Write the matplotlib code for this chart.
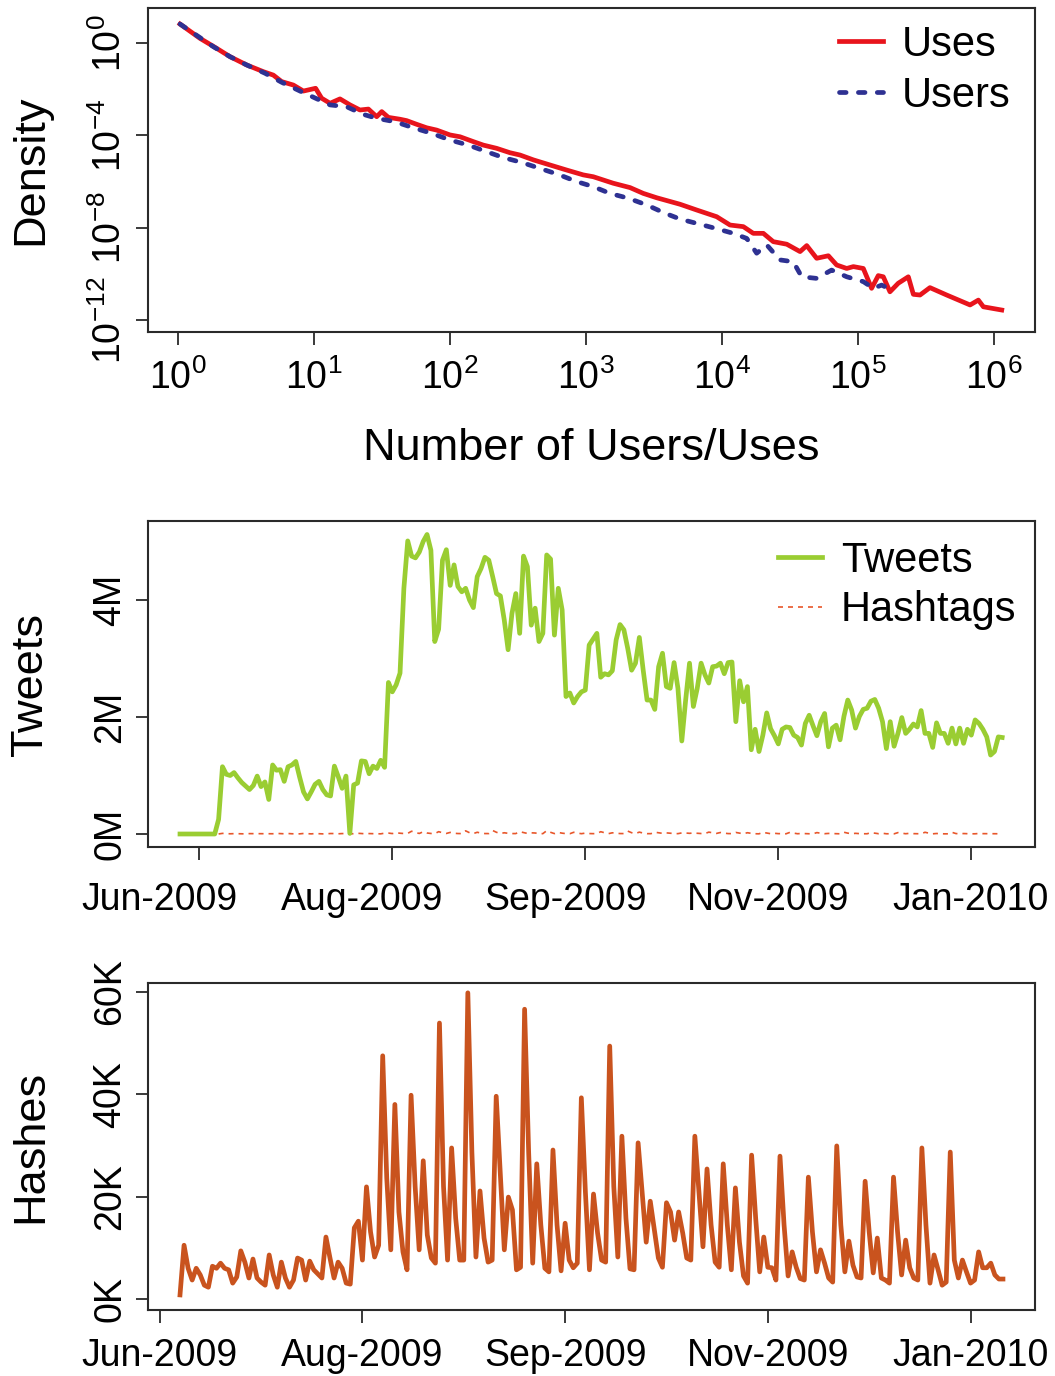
import numpy as np
import matplotlib
matplotlib.use('Agg')
import matplotlib.pyplot as plt
from matplotlib.ticker import FixedLocator, NullLocator, FixedFormatter

plt.rcParams['font.family'] = ['Liberation Sans', 'DejaVu Sans']
plt.rcParams['mathtext.fontset'] = 'custom'
plt.rcParams['mathtext.rm'] = 'Liberation Sans'
plt.rcParams['mathtext.it'] = 'Liberation Sans:italic'
plt.rcParams['mathtext.bf'] = 'Liberation Sans:bold'

# ---------------- Panel 1: density (log10 of x and of density) ----------------
uses_log_x = [0.015, 0.162, 0.284, 0.382, 0.505, 0.627, 0.701, 0.762, 0.848, 0.922,
              1.012, 1.056, 1.118, 1.191, 1.265, 1.338, 1.40, 1.461, 1.498, 1.547,
              1.632, 1.681, 1.755, 1.828, 1.902, 2.0, 2.074, 2.172, 2.245, 2.343,
              2.441, 2.515, 2.613, 2.735, 2.858, 2.98, 3.054, 3.20, 3.324, 3.421,
              3.52, 3.691, 3.814, 3.961, 4.059, 4.157, 4.230, 4.304, 4.377, 4.476,
              4.574, 4.623, 4.696, 4.782, 4.843, 4.917, 4.966, 5.039, 5.10, 5.149,
              5.186, 5.235, 5.296, 5.37, 5.407, 5.456, 5.529, 5.652, 5.824, 5.885,
              5.922, 6.057]
uses_log_d = [0.82, 0.20, -0.23, -0.59, -0.95, -1.24, -1.39, -1.67, -1.82, -2.08,
              -1.96, -2.39, -2.61, -2.42, -2.68, -2.90, -2.86, -3.19, -2.97, -3.22,
              -3.30, -3.36, -3.52, -3.67, -3.77, -3.98, -4.06, -4.27, -4.42, -4.56,
              -4.75, -4.85, -5.06, -5.28, -5.50, -5.71, -5.79, -6.07, -6.26, -6.51,
              -6.70, -6.98, -7.23, -7.52, -7.88, -7.95, -8.24, -8.24, -8.60, -8.71,
              -9.03, -8.77, -9.32, -9.21, -9.61, -9.76, -9.68, -9.76, -10.62, -10.07,
              -10.12, -10.77, -10.40, -10.12, -10.88, -10.91, -10.59, -10.91, -11.34, -11.13,
              -11.42, -11.56]
users_log_x = [0.015, 0.26, 0.382, 0.505, 0.64, 0.762, 0.897, 1.118, 1.24, 1.363,
               1.461, 1.596, 1.73, 1.865, 2.0, 2.135, 2.257, 2.392, 2.527, 2.662,
               2.796, 2.932, 3.054, 3.176, 3.311, 3.446, 3.581, 3.691, 3.814, 3.949,
               4.083, 4.182, 4.255, 4.329, 4.426, 4.524, 4.586, 4.696, 4.806, 4.917,
               5.039, 5.113, 5.174, 5.272]
users_log_d = [0.82, -0.16, -0.59, -0.95, -1.31, -1.70, -2.08, -2.68, -2.76, -3.09,
               -3.26, -3.41, -3.67, -3.91, -4.20, -4.42, -4.68, -4.96, -5.17, -5.43,
               -5.69, -6.00, -6.22, -6.51, -6.72, -7.01, -7.37, -7.62, -7.81, -8.02,
               -8.24, -8.46, -9.10, -8.74, -9.39, -9.47, -10.12, -10.19, -9.83, -10.12,
               -10.33, -10.62, -10.48, -10.77]
density_x_ticks_exp = [0, 1, 2, 3, 4, 5, 6]
density_y_ticks_exp = [0, -4, -8, -12]

# ---------------- Panel 2 & 3: daily series ----------------
# Tweets per day (millions), day 0 = first day of the tweet series
tweets_millions = [
    0, 0, 0, 0, 0, 0, 0, 0, 0, 0,
    0.25, 1.15, 1.02, 1.00, 1.05, 0.96, 0.88, 0.82, 0.76, 0.83,
    0.99, 0.81, 0.89, 0.59, 1.18, 1.09, 1.10, 0.90, 1.15, 1.18,
    1.24, 0.97, 0.72, 0.60, 0.72, 0.85, 0.90, 0.76, 0.67, 0.65,
    1.16, 0.98, 0.78, 0.99, 0.01, 0.84, 0.87, 1.25, 1.24, 1.03,
    1.16, 1.12, 1.26, 1.14, 2.59, 2.43, 2.55, 2.75, 4.20, 5.01,
    4.75, 4.72, 4.82, 5.00, 5.12, 4.85, 3.29, 3.50, 4.68, 4.86,
    4.25, 4.60, 4.23, 4.14, 4.20, 4.00, 3.87, 4.40, 4.54, 4.73,
    4.68, 4.40, 4.11, 4.07, 3.66, 3.15, 3.77, 4.11, 3.43, 4.75,
    4.57, 3.57, 3.86, 3.29, 3.43, 4.77, 4.70, 3.40, 4.20, 3.83,
    2.35, 2.41, 2.24, 2.35, 2.43, 2.46, 3.23, 3.33, 3.43, 2.68,
    2.74, 2.72, 2.79, 3.32, 3.58, 3.49, 3.17, 2.80, 2.92, 3.36,
    2.80, 2.29, 2.29, 2.13, 2.86, 3.09, 2.52, 2.49, 2.93, 2.49,
    1.59, 2.29, 2.92, 2.18, 2.49, 2.92, 2.72, 2.58, 2.86, 2.87,
    2.92, 2.74, 2.93, 2.94, 1.92, 2.62, 2.26, 2.52, 1.44, 1.79,
    1.41, 1.69, 2.07, 1.80, 1.68, 1.54, 1.79, 1.83, 1.82, 1.69,
    1.65, 1.52, 1.89, 2.03, 1.85, 1.68, 1.92, 2.06, 1.49, 1.81,
    1.86, 1.61, 2.01, 2.29, 2.12, 1.81, 2.01, 2.13, 2.15, 2.27,
    2.30, 2.15, 1.92, 1.46, 1.92, 1.50, 1.72, 1.99, 1.72, 1.79,
    1.88, 1.83, 2.11, 1.72, 1.72, 1.48, 1.90, 1.72, 1.72, 1.55,
    1.81, 1.54, 1.81, 1.55, 1.79, 1.69, 1.95, 1.89, 1.79, 1.66,
    1.35, 1.41, 1.66, 1.65]

# Hashtags per day (thousands); starts on tweet-day 10
hashes_start_day = 10
hashes_thousands = [
    0.8, 10.5, 6.0, 3.7, 6.0, 4.7, 2.7, 2.3, 6.4, 6.0,
    7.0, 6.0, 5.7, 3.1, 4.3, 9.4, 7.2, 4.1, 7.8, 4.1,
    3.3, 2.7, 8.6, 4.7, 2.3, 7.2, 4.1, 2.3, 3.7, 8.0,
    7.6, 3.7, 7.4, 5.7, 4.9, 4.1, 12.1, 8.0, 4.1, 7.2,
    6.0, 3.1, 2.9, 13.9, 15.2, 7.6, 21.9, 13.1, 8.2, 10.5,
    47.5, 23.6, 9.6, 38.0, 17.0, 9.2, 5.7, 39.8, 22.0, 9.6,
    27.0, 12.5, 8.0, 7.0, 53.9, 22.0, 7.6, 29.5, 15.8, 7.6,
    7.6, 59.8, 28.7, 8.2, 21.1, 11.9, 7.2, 7.6, 39.6, 24.8,
    9.6, 19.9, 17.4, 5.7, 6.2, 56.6, 28.7, 7.0, 26.4, 14.5,
    6.0, 5.3, 29.1, 14.5, 5.5, 14.8, 7.6, 6.1, 7.0, 39.3,
    20.9, 5.7, 20.5, 12.9, 7.6, 7.2, 49.4, 22.0, 8.2, 31.8,
    15.8, 5.9, 5.7, 30.5, 20.9, 11.1, 19.1, 13.5, 8.0, 6.2,
    18.8, 17.0, 11.5, 17.0, 12.9, 8.0, 7.6, 31.8, 20.9, 10.2,
    25.4, 14.5, 7.2, 6.2, 26.4, 14.5, 5.7, 21.7, 11.1, 4.5,
    3.1, 28.1, 15.8, 5.3, 12.1, 6.2, 6.1, 3.7, 27.9, 14.5,
    4.5, 9.2, 6.2, 4.0, 3.7, 23.8, 13.1, 5.3, 9.6, 7.0,
    4.1, 3.3, 29.9, 14.5, 5.3, 11.3, 6.6, 4.3, 4.1, 23.0,
    13.1, 5.1, 11.9, 4.1, 3.7, 3.1, 23.8, 13.1, 4.7, 11.5,
    6.1, 4.1, 3.7, 29.5, 14.5, 3.1, 8.6, 5.7, 2.7, 3.3,
    28.7, 7.6, 4.1, 7.6, 5.3, 3.1, 3.7, 9.2, 6.1, 6.1,
    7.0, 4.7, 3.9, 3.9]

date_tick_days = [5, 55, 105, 155, 205]
date_tick_labels = ['Jun-2009', 'Aug-2009', 'Sep-2009', 'Nov-2009', 'Jan-2010']
tweet_ticks = [0, 2, 4]
tweet_tick_labels = ['0M', '2M', '4M']
hash_ticks = [0, 20, 40, 60]
hash_tick_labels = ['0K', '20K', '40K', '60K']

# ---------------- styling ----------------
RED = '#E8141C'
BLUE = '#2E3192'
GREEN = '#9ACD32'
ORANGE_THIN = '#E8562A'
ORANGE = '#C9531E'
SPINE = '#2A2A2A'
TICK_FS = 27
LABEL_FS = 32.5
LEG_FS = 30
LW = 3.4
TICK_LEN = 9

fig = plt.figure(figsize=(10.55, 13.76), dpi=100)
W, H = 1055.0, 1376.0

def box(x0, y0, x1, y1):
    return [x0 / W, 1 - y1 / H, (x1 - x0) / W, (y1 - y0) / H]

def style_axes(ax, xpad=5):
    for s in ax.spines.values():
        s.set_color(SPINE)
        s.set_linewidth(1.5)
    ax.tick_params(direction='out', length=TICK_LEN, width=1.3, color=SPINE,
                   labelsize=TICK_FS, pad=5)
    ax.tick_params(axis='x', pad=xpad)
    ax.tick_params(axis='y', labelrotation=90)
    for lab in ax.get_yticklabels():
        lab.set_va('center')

# ---- Panel 1
ax1 = fig.add_axes(box(148, 8, 1035, 332))
ax1.set_xscale('log')
ax1.set_yscale('log')
ax1.plot(10 ** np.array(uses_log_x), 10 ** np.array(uses_log_d), color=RED,
         lw=LW, solid_joinstyle='round', label='Uses', zorder=2)
ax1.plot(10 ** np.array(users_log_x), 10 ** np.array(users_log_d), color=BLUE,
         lw=LW, dashes=(1.4, 2.6), dash_capstyle='round', label='Users', zorder=3)
ax1.set_xlim(10 ** ((148 - 178) / 136.0), 10 ** ((1035 - 178) / 136.0))
ax1.set_ylim(10 ** ((43 - 332) / 23.1), 10 ** ((43 - 8) / 23.1))
ax1.xaxis.set_major_locator(FixedLocator([10.0 ** e for e in density_x_ticks_exp]))
ax1.xaxis.set_major_formatter(FixedFormatter([r'$\mathregular{10^{%d}}$' % e for e in density_x_ticks_exp]))
ax1.yaxis.set_major_locator(FixedLocator([10.0 ** e for e in density_y_ticks_exp]))
ax1.yaxis.set_major_formatter(FixedFormatter([r'$\mathregular{10^{%d}}$' % e for e in density_y_ticks_exp]))
ax1.xaxis.set_minor_locator(NullLocator())
ax1.yaxis.set_minor_locator(NullLocator())
style_axes(ax1, xpad=11)
ax1.set_xlabel('Number of Users/Uses', fontsize=LABEL_FS)
ax1.set_ylabel('Density', fontsize=LABEL_FS)
ax1.xaxis.set_label_coords(0.5, -0.297)
ax1.yaxis.set_label_coords(-0.109, 0.5)
ax1.legend(loc='upper right', bbox_to_anchor=(1 - 12 / 887.0, 1 - 4 / 324.0),
           frameon=False, fontsize=LEG_FS, handlelength=1.05,
           handletextpad=0.45, labelspacing=0.27, borderaxespad=0.1, borderpad=0.2)

# ---- Panel 3 (created before panel 2 labels so its transform can be used)
days_t = np.arange(len(tweets_millions))
days_h = np.arange(len(hashes_thousands)) + hashes_start_day
ax3 = fig.add_axes(box(148, 983, 1035, 1310))
ax3.plot(days_h, hashes_thousands, color=ORANGE, lw=LW, solid_joinstyle='round')
ax3.set_xlim((148 - 180) / 4.054 + hashes_start_day, (1035 - 180) / 4.054 + hashes_start_day)
ax3.set_ylim((1299 - 1310) / 5.12, (1299 - 983) / 5.12)
ax3.xaxis.set_major_locator(FixedLocator(date_tick_days))
ax3.xaxis.set_major_formatter(FixedFormatter(date_tick_labels))
ax3.yaxis.set_major_locator(FixedLocator(hash_ticks))
ax3.yaxis.set_major_formatter(FixedFormatter(hash_tick_labels))
style_axes(ax3, xpad=11)
ax3.set_ylabel('Hashes', fontsize=LABEL_FS)
ax3.yaxis.set_label_coords(-0.109, 0.5)

# ---- Panel 2
ax2 = fig.add_axes(box(148, 521, 1035, 847))
ax2.plot(days_t, tweets_millions, color=GREEN, lw=LW, solid_joinstyle='round',
         label='Tweets', zorder=3)
ax2.plot(days_h, np.array(hashes_thousands) / 1000.0, color=ORANGE_THIN, lw=1.2,
         dashes=(3, 3), label='Hashtags', zorder=2)
ax2.set_xlim((148 - 180) / 3.86, (1035 - 180) / 3.86)
ax2.set_ylim((834 - 847) / 58.5, (834 - 521) / 58.5)
ax2.xaxis.set_major_locator(FixedLocator(date_tick_days))
ax2.xaxis.set_major_formatter(FixedFormatter([''] * len(date_tick_days)))
# in the reference the date labels of this panel sit where the lower panel's ticks are
label_pos = [ax2.transData.inverted().transform(ax3.transData.transform((d, 0)))[0]
             for d in date_tick_days]
ax2.xaxis.set_minor_locator(FixedLocator(label_pos))
ax2.xaxis.set_minor_formatter(FixedFormatter(date_tick_labels))
ax2.yaxis.set_major_locator(FixedLocator(tweet_ticks))
ax2.yaxis.set_major_formatter(FixedFormatter(tweet_tick_labels))
style_axes(ax2)
ax2.tick_params(axis='x', which='minor', length=0, labelsize=TICK_FS, pad=TICK_LEN + 16)
ax2.set_ylabel('Tweets', fontsize=LABEL_FS)
ax2.yaxis.set_label_coords(-0.109, 0.5)
ax2.legend(loc='upper right', bbox_to_anchor=(1 - 6 / 887.0, 1 - 7 / 326.0),
           frameon=False, fontsize=LEG_FS, handlelength=1.05,
           handletextpad=0.45, labelspacing=0.24, borderaxespad=0.1, borderpad=0.2)

fig.savefig('out.png', dpi=100)
